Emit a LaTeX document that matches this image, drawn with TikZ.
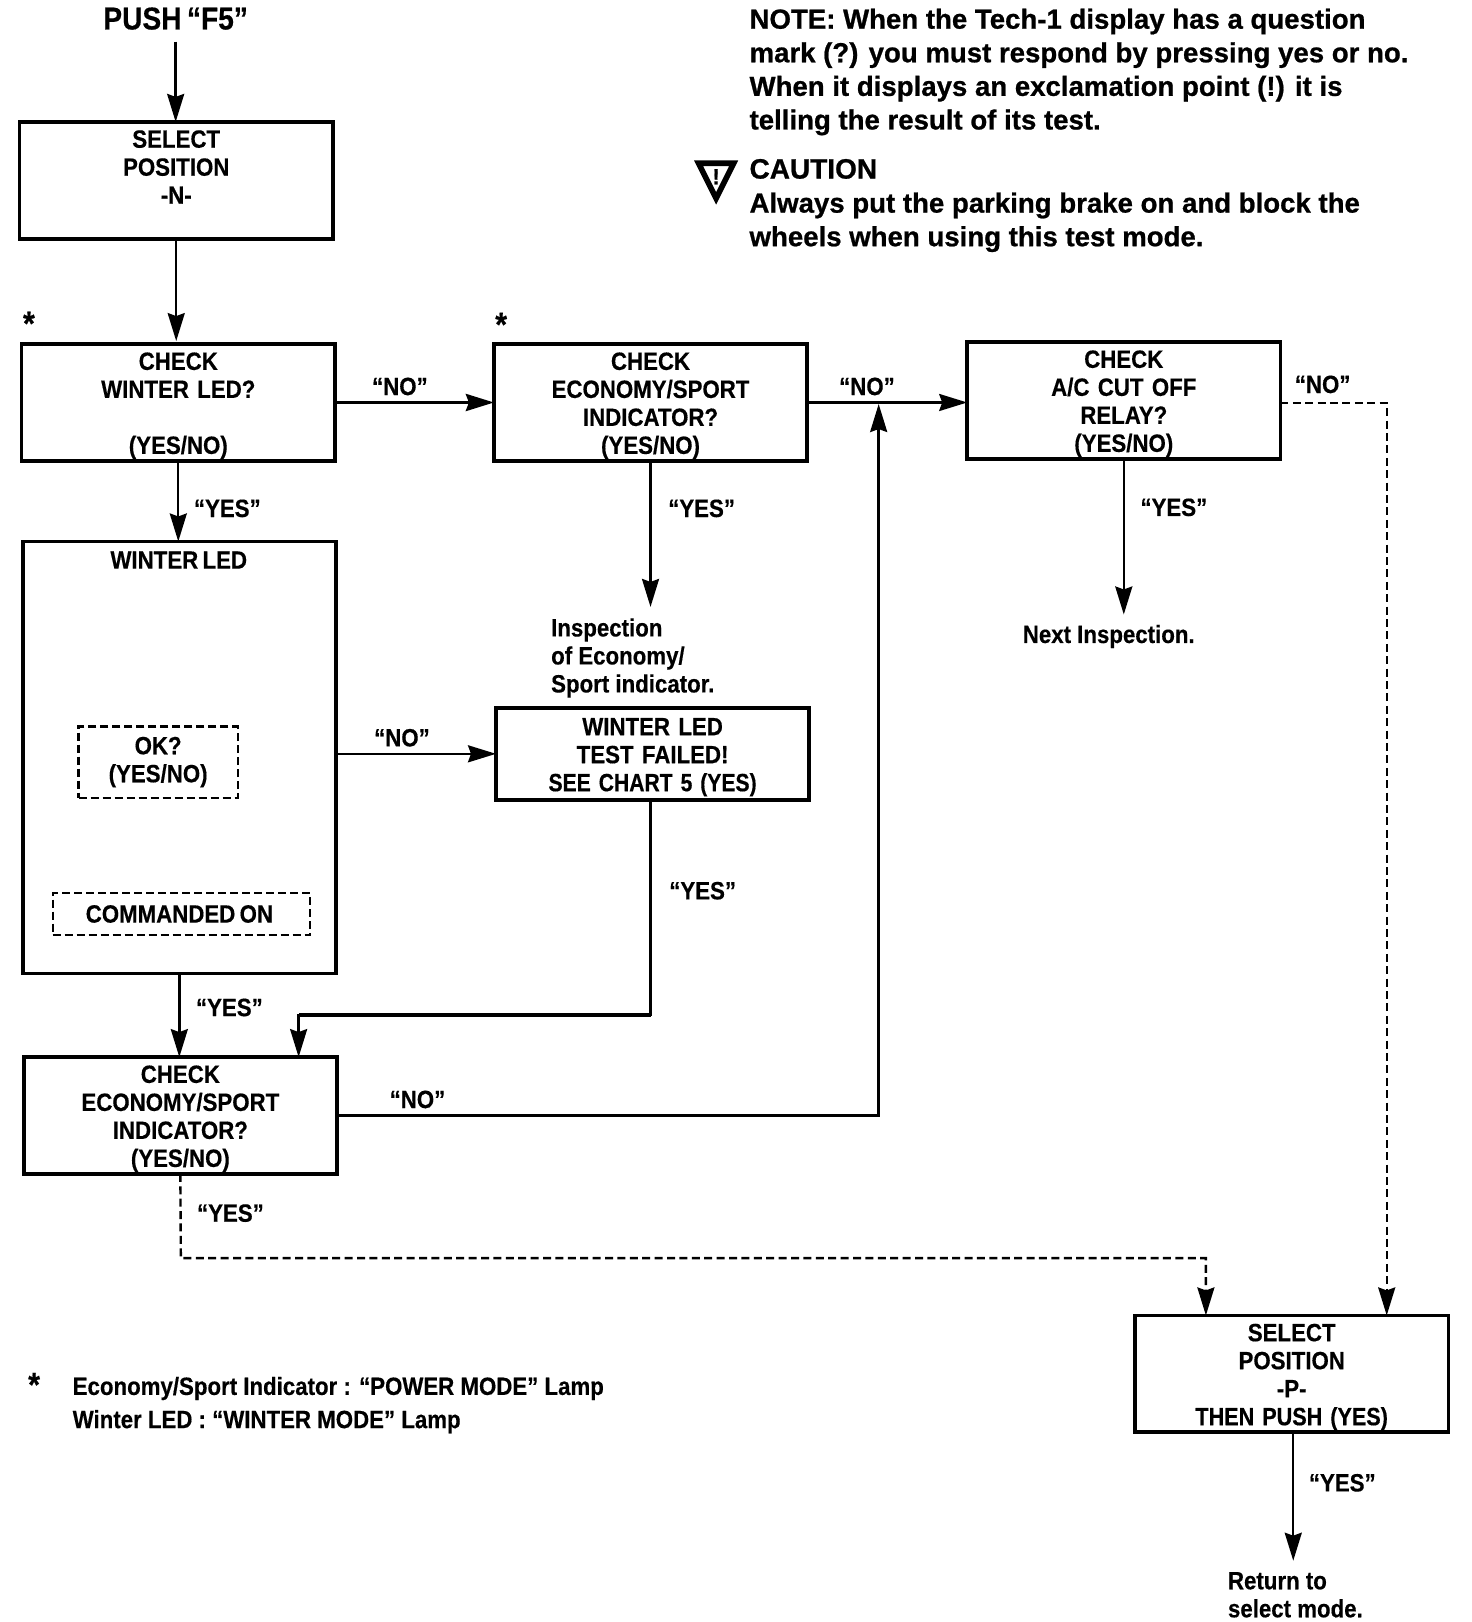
\documentclass[tikz,border=0pt]{standalone}
\usepackage{fontspec}
\setmainfont{Liberation Sans}[FakeStretch=0.89,WordSpace=0.7,BoldFeatures={FakeBold=0.4}]
\newfontfamily\lowf{Liberation Sans}[FakeStretch=0.89,BoldFeatures={FakeBold=0.4}]
\newfontfamily\notef{Liberation Sans}[BoldFeatures={FakeBold=0.8}]
\usetikzlibrary{arrows.meta,calc}
\tikzset{
  boxst/.style={draw=black,line width=1.8pt,outer sep=0pt,fill=white,minimum width=156.6pt,text width=150pt,align=center,inner sep=0pt,minimum height=58.4pt,font=\bfseries\fontsize{12.5}{14}\selectfont,execute at begin node={\rule{0pt}{12pt}}},
  dbox/.style={draw=black,line width=1.2pt,outer sep=0pt,dash pattern=on 4pt off 2pt,align=center,inner sep=0pt,font=\bfseries\fontsize{12.5}{14}\selectfont},
  txt/.style={align=center,inner sep=0pt,font=\bfseries\fontsize{12.5}{14}\selectfont},
  txtl/.style={align=left,inner sep=0pt,font=\lowf\bfseries\fontsize{12.5}{14}\selectfont,anchor=west},
  starst/.style={txt,font=\bfseries\fontsize{17}{17}\selectfont},
  notest/.style={align=left,inner sep=0pt,anchor=north west,font=\notef\bfseries\fontsize{13.8}{16.8}\selectfont},
  arr/.style={draw=black,line width=1.2pt,-{Stealth[length=14pt,width=8.5pt,inset=1.5pt]}},
  darr/.style={arr,dash pattern=on 4pt off 2.2pt},
  lnk/.style={draw=black,line width=1.8pt}
}
\begin{document}
\begin{tikzpicture}[x=0.5167pt,y=-0.5167pt]
\useasboundingbox (0,0) rectangle (1424.5,1569.7);
% boxes
\node[boxst,anchor=north west] (a) at (19,118) {SELECT\\POSITION\\-N-\\\rule[-2.6pt]{0pt}{1pt}};
\node[boxst,anchor=north west] (b) at (21,333) {CHECK\\WINTER LED?\\\mbox{}\\(YES/NO)};
\node[boxst,anchor=north west] (c) at (478,333) {CHECK\\ECONOMY/SPORT\\INDICATOR?\\(YES/NO)};
\node[boxst,anchor=north west] (d) at (936,331) {CHECK\\A/C CUT OFF\\RELAY?\\(YES/NO)};
\node[boxst,anchor=north west,minimum height=216pt,execute at begin node={}] (e) at (22,524) {};
\node[txt] (et) at (173,542) {WINTER LED};
\node[dbox,anchor=north west,minimum width=79.6pt,minimum height=35.7pt,execute at begin node={\rule{0pt}{12pt}}] (f) at (76,703) {OK?\\(YES/NO)};
\node[dbox,anchor=north west,minimum width=128.7pt,minimum height=21.2pt] (g) at (51,864) {\hspace{-2pt}COMMANDED ON};
\node[boxst,anchor=north west,minimum height=46pt] (h) at (480,685) {WINTER LED\\TEST FAILED!\\\scalebox{0.95}[1]{SEE CHART 5 (YES)}};
\node[boxst,anchor=north west] (i) at (23,1023) {CHECK\\ECONOMY/SPORT\\INDICATOR?\\(YES/NO)};
\node[boxst,anchor=north west] (j) at (1098.5,1273) {SELECT\\POSITION\\-P-\\\scalebox{0.97}[1]{THEN PUSH (YES)}};
% free text
\node[txt,font=\bfseries\fontsize{15.8}{17}\selectfont] (push) at (170,18) {PUSH “F5”};
\node[notest] (note) at (725,8) {NOTE: When the Tech-1 display has a question\\mark (?) you must respond by pressing yes or no.\\When it displays an exclamation point (!) it is\\telling the result of its test.};
\node[notest,font=\notef\bfseries\fontsize{14}{16.8}\selectfont] (caut) at (725,153.5) {CAUTION};
\node[notest] (caut2) at (725,186) {Always put the parking brake on and block the\\wheels when using this test mode.};
\node[starst] (star1) at (28,313) {*};
\node[starst] (star2) at (485,314) {*};
\node[starst] (star3) at (33,1340) {*};
\node[txtl,anchor=north west] (insp) at (533,598) {Inspection\\of Economy/\\Sport indicator.};
\node[txtl,anchor=center] (nexti) at (1073,616) {Next Inspection.};
\node[txtl,anchor=north west] (ret) at (1188,1521) {Return to\\select mode.};
\node[txtl,anchor=north west,font=\lowf\bfseries\fontsize{12.5}{16.6}\selectfont] (leg) at (70,1332) {Economy/Sport Indicator : “POWER MODE” Lamp\\Winter LED : “WINTER MODE” Lamp};
% labels
\node[txt] (l1) at (387,374) {“NO”};
\node[txt] (l2) at (220,492) {“YES”};
\node[txt] (l3) at (679,492) {“YES”};
\node[txt] (l4) at (839,374) {“NO”};
\node[txt] (l5) at (1280,372) {“NO”};
\node[txt] (l6) at (1136,491) {“YES”};
\node[txt] (l7) at (389,714) {“NO”};
\node[txt] (l8) at (680,862) {“YES”};
\node[txt] (l9) at (222,975) {“YES”};
\node[txt] (l10) at (404,1064) {“NO”};
\node[txt] (l11) at (223,1174) {“YES”};
\node[txt] (l12) at (1299,1435) {“YES”};
% caution triangle
\draw[line width=2.8pt,line join=miter] (676,158) -- (710,158) -- (693,192) -- cycle;
\node[txt,font=\notef\bfseries\fontsize{11}{12}\selectfont] (bang) at (693,171) {!};
% connectors
\coordinate (pushend) at ($(push.south)+(0,11)$);
\draw[arr] (pushend) -- (pushend |- a.north);
\draw[arr,shorten >=1.5pt] (a.south) -- (a.south |- b.north);
\draw[arr,line width=1.7pt] (b.east) -- (c.west);
\draw[arr] (b.south) -- (b.south |- e.north);
\draw[arr,shorten >=5.5pt] (c.south) -- (c.south |- insp.north);
\draw[arr] (c.east) -- (d.west |- c.east);
\coordinate (jn) at ($(c.east)!0.447!(d.west |- c.east)+(0,1.5)$);
\draw[arr] (i.east) -- (jn |- i.east) -- (jn);
\draw[arr,shorten >=5pt] (d.south) -- (d.south |- nexti.north);
\coordinate (dr) at (1342,390);
\draw[darr] (d.east |- dr) -- (dr) -- (dr |- j.north);
\draw[arr] (e.east |- h.west) -- (h.west);
\coordinate (hd) at (h.south -| c.south);
\coordinate (im) at (289,982.5);
\draw[arr] (hd) -- (hd |- im) -- (im) -- (im |- i.north);
\draw[lnk] (hd |- im) -- (im);
\draw[arr] (e.south) -- (e.south |- i.north);
\coordinate (ib) at (175,1217.5);
\coordinate (ijn) at (1167,1217.5);
\draw[darr] (i.south) -- (ib) -- (ijn) -- (ijn |- j.north);
\coordinate (jd) at ($(j.south)+(1.5,0)$);
\draw[arr,shorten >=5.5pt] (jd) -- (jd |- ret.north);
\end{tikzpicture}
\end{document}
